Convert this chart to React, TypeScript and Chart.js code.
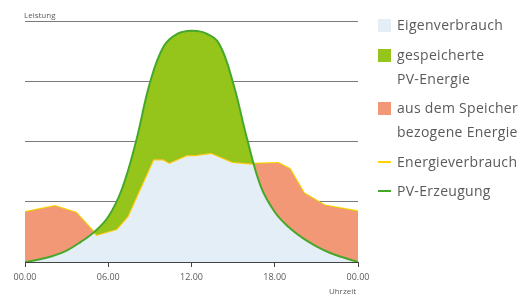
import React, { useEffect, useRef } from "react";
import { Chart, registerables } from "chart.js";

Chart.register(...registerables);

// hours of day (0..24)
const pvHours = [0, 1, 2, 3, 4, 5, 6, 7, 8, 9, 10, 11, 12, 13, 14, 15, 16, 17, 18, 19, 20, 21, 22, 23, 24];
const pvValues = [0, 0.04, 0.1, 0.19, 0.33, 0.5, 0.75, 1.22, 2.0, 2.97, 3.58, 3.79, 3.84, 3.8, 3.62, 2.97, 2.05, 1.25, 0.83, 0.58, 0.4, 0.26, 0.15, 0.07, 0];

const useHours = [0, 2.16, 3.68, 5.16, 6.6, 7.4, 9.25, 9.97, 10.4, 11.65, 12.25, 13.4, 14.94, 16.3, 18.26, 19.1, 20.1, 21.6, 24];
const useValues = [0.83, 0.93, 0.82, 0.45, 0.545, 0.755, 1.7, 1.7, 1.645, 1.77, 1.77, 1.81, 1.66, 1.63, 1.645, 1.545, 1.145, 0.94, 0.84];

const xTickValues = [0, 6, 12, 18, 24];
const xTickLabels = ["00.00", "06.00", "12.00", "18.00", "00.00"];

const legendItems = [
  { lines: ["Eigenverbrauch"], kind: "box", color: "#e4eef7" },
  { lines: ["gespeicherte", "PV-Energie"], kind: "box", color: "#95c51b" },
  { lines: ["aus dem Speicher", "bezogene Energie"], kind: "box", color: "#f39876" },
  { lines: ["Energieverbrauch"], kind: "line", color: "#ffd200" },
  { lines: ["PV-Erzeugung"], kind: "line", color: "#46a82a" },
];

const FONT = "'Open Sans', 'Noto Sans', sans-serif";
const TEXT = "#5a5a5a";

export default function App() {
  const ref = useRef<HTMLCanvasElement | null>(null);

  useEffect(() => {
    document.body.style.margin = "0";
    const ctx = ref.current!;
    const chart = new Chart(ctx, {
      type: "line",
      data: {
        datasets: [
          {
            label: "PV-Erzeugung",
            data: pvHours.map((h, i) => ({ x: h, y: pvValues[i] })),
            borderColor: "#46a82a",
            borderWidth: 2,
            pointRadius: 0,
            tension: 0.4,
            fill: { target: 1, above: "#95c51b", below: "#f39876" },
          },
          {
            label: "Energieverbrauch",
            data: useHours.map((h, i) => ({ x: h, y: useValues[i] })),
            borderColor: "#ffd200",
            borderWidth: 2,
            pointRadius: 0,
            tension: 0,
            fill: { target: "origin", above: "#e4eef7" },
          },
        ],
      },
      options: {
        animation: false,
        responsive: false,
        maintainAspectRatio: false,
        layout: { padding: { top: 21, right: 163, left: 0, bottom: 0 } },
        plugins: { legend: { display: false }, tooltip: { enabled: false } },
        scales: {
          x: {
            type: "linear",
            min: 0,
            max: 24,
            afterBuildTicks: (s: any) => {
              s.ticks = xTickValues.map((v) => ({ value: v }));
            },
            afterFit: (s: any) => {
              s.height = 34;
            },
            ticks: {
              autoSkip: false,
              maxRotation: 0,
              padding: 5,
              color: TEXT,
              font: { family: FONT, size: 9 },
              callback: (v: any) => {
                const i = xTickValues.indexOf(Number(v));
                return i >= 0 ? xTickLabels[i] : "";
              },
            },
            grid: { drawOnChartArea: false, drawTicks: true, tickLength: 5, color: "#444" },
            border: { display: true, color: "#444", width: 1 },
          },
          y: {
            min: 0,
            max: 4,
            ticks: { stepSize: 1, display: false },
            afterFit: (s: any) => {
              s.width = 25;
            },
            grid: { drawTicks: false, color: "#7a7a7a" },
            border: { display: false },
          },
        },
      },
    });
    return () => chart.destroy();
  }, []);

  let rows: any[] = [];
  const firstCenters = [25, 55, 108, 161.5, 190.5];
  const secondCenters = [0, 79, 131.5];
  legendItems.forEach((it, i) => {
    it.lines.forEach((ln, j) => {
      const c = j === 0 ? firstCenters[i] : secondCenters[i];
      rows.push(
        <div
          key={i + "-" + j}
          style={{
            position: "absolute",
            left: 397,
            top: c - 10,
            height: 20,
            lineHeight: "20px",
            fontFamily: FONT,
            fontSize: 14,
            letterSpacing: "0.3px",
            color: TEXT,
            whiteSpace: "nowrap",
          }}
        >
          {ln}
        </div>
      );
    });
    const c = firstCenters[i];
    rows.push(
      <div
        key={"m" + i}
        style={{
          position: "absolute",
          left: 378,
          top: it.kind === "box" ? c - 6.5 : c - 1,
          width: 13,
          height: it.kind === "box" ? 13 : 2,
          background: it.color,
        }}
      />
    );
  });

  return (
    <div style={{ position: "fixed", left: 0, top: 0, width: 521, height: 296, background: "#fff" }}>
      <canvas ref={ref} width={521} height={296} style={{ position: "absolute", left: 0, top: 0 }} />
      <div style={{ position: "absolute", left: 24, top: 9, fontFamily: FONT, fontSize: 8, color: TEXT, lineHeight: "11px" }}>
        Leistung
      </div>
      <div style={{ position: "absolute", right: 521 - 356, top: 285, fontFamily: FONT, fontSize: 8, color: TEXT, lineHeight: "11px" }}>
        Uhrzeit
      </div>
      {rows}
    </div>
  );
}
